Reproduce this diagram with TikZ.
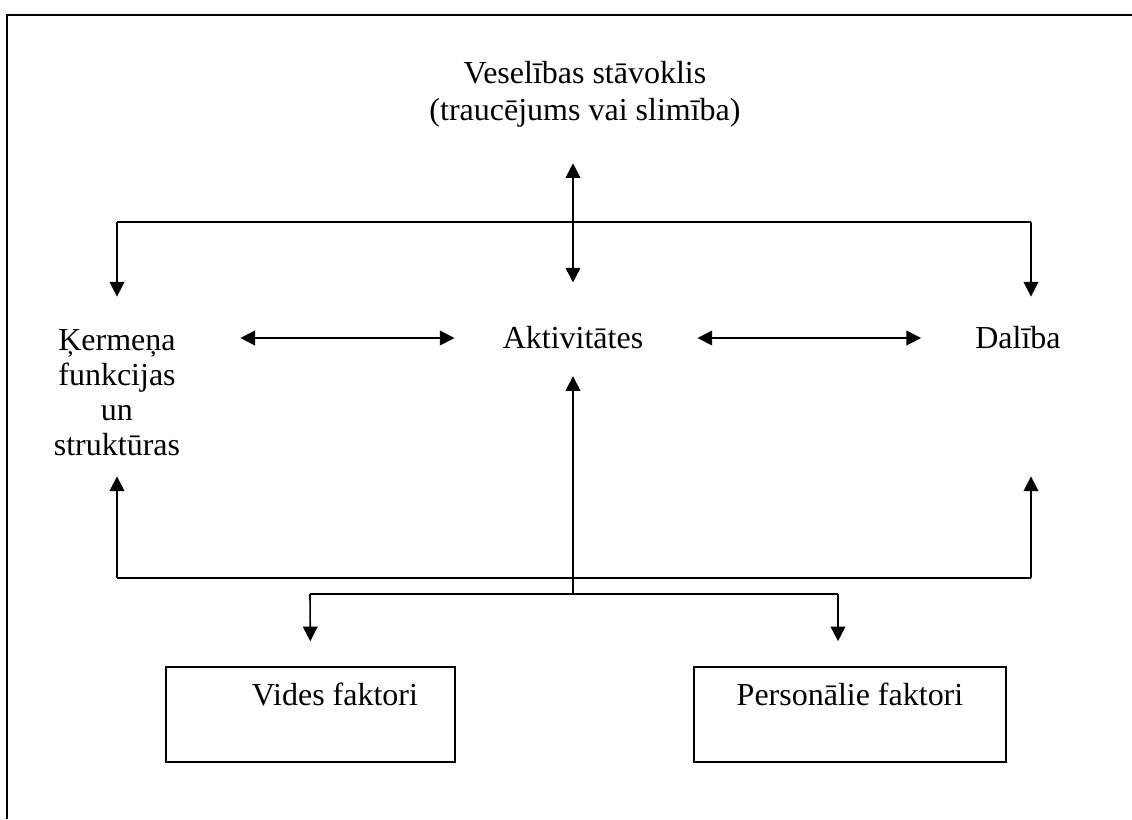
\documentclass[tikz,border=0pt]{standalone}
\usepackage{fontspec}
\setmainfont{Liberation Serif}
\usepackage{tikz}
\usetikzlibrary{arrows.meta,positioning,calc}
\tikzset{
  lbl/.style={inner sep=0pt, align=center, font=\fontsize{24}{27.75}\selectfont},
  fakt/.style={rectangle, draw, line width=1.2pt, inner ysep=12pt, text height=16.5pt, text depth=30.75pt,
               font=\fontsize{24}{27.75}\selectfont},
  wire/.style={line width=1.2pt},
  arr/.style={-{Triangle[length=11pt,width=11pt]}, line width=1.2pt},
  dblarr/.style={{Triangle[length=11pt,width=11pt]}-{Triangle[length=11pt,width=11pt]}, line width=1.2pt},
  frame/.style={line width=1.8pt},
}
\begin{document}
\begin{tikzpicture}[x=0.75pt, y=-0.75pt]
  \useasboundingbox (0,0) rectangle (1132,819);
  \draw[frame] (1132,15) -- (7,15) -- (7,819);

  \node[lbl] (health) at (585,94) {Veselības stāvoklis\\(traucējums vai slimība)};
  \node[lbl, font=\fontsize{24}{26.25}\selectfont] (body) at (117,393) {Ķermeņa\\funkcijas\\un\\struktūras};
  \node[lbl] (act) at (573,338) {Aktivitātes};
  \node[lbl] (part) at (1018,338) {Dalība};
  \node[fakt, text width=161.25pt, inner xsep=27.75pt, align=flush right] (env) at (310.5,714.5) {Vides faktori};
  \node[fakt, text width=174pt, inner xsep=30pt, align=flush center] (pers) at (850,714.5) {Personālie faktori};

  % junctions
  \coordinate (tl) at (117,222);
  \coordinate (tr) at (1031,222);
  \coordinate (bl) at (117,578);
  \coordinate (br) at (1031,578);
  \coordinate (fl) at (310,594);
  \coordinate (fr) at (838,594);
  \coordinate (fm) at (573,594);

  \draw[dblarr, shorten <=27pt, shorten >=33pt] (act.north |- health.south) -- (act.north);
  \draw[wire] (tl) -- (tr);
  \draw[arr, shorten >=24.75pt] (tl) -- (body.north);
  \draw[arr, shorten >=24.75pt] (tr) -- (tr |- body.north);

  \draw[dblarr, shorten <=45pt, shorten >=36pt] (body.east |- act) -- (act.west);
  \draw[dblarr, shorten <=40.5pt, shorten >=40.5pt] (act.east) -- (part.west);

  \draw[wire] (bl) -- (br);
  \draw[arr, shorten >=15pt] (bl) -- (body.south);
  \draw[arr, shorten >=15pt] (br) -- (br |- body.south);
  \draw[arr, shorten >=20pt] (fm) -- (act.south);

  \draw[wire] (fl) -- (fr);
  \draw[arr, shorten >=18.75pt] (fl) -- (env.north);
  \draw[arr, shorten >=18.75pt] (fr) -- (fr |- pers.north);
\end{tikzpicture}
\end{document}
